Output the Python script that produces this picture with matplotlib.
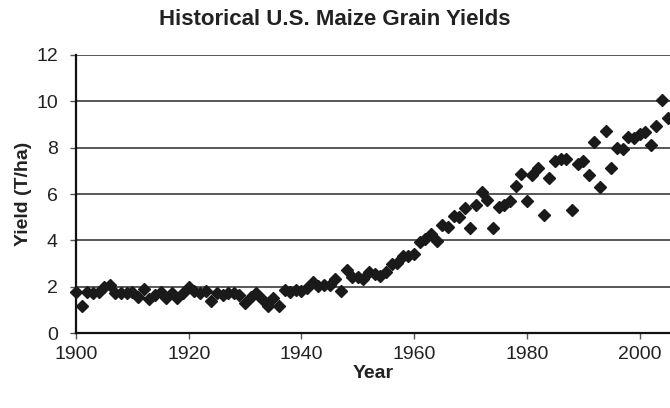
import numpy as np
import matplotlib
matplotlib.use('Agg')
from matplotlib import pyplot as plt

plt.rcParams['font.family'] = ['Liberation Sans', 'DejaVu Sans']

# Annual U.S. maize grain yield, tonnes per hectare
years = list(range(1900, 2006))
yields = [
    1.78, 1.17, 1.78, 1.71, 1.78, 1.97, 2.07, 1.74, 1.71, 1.71,   # 1900s
    1.78, 1.57, 1.89, 1.45, 1.64, 1.78, 1.50, 1.71, 1.50, 1.71,   # 1910s
    1.97, 1.83, 1.71, 1.83, 1.39, 1.74, 1.64, 1.71, 1.71, 1.62,   # 1920s
    1.30, 1.57, 1.74, 1.45, 1.17, 1.52, 1.17, 1.86, 1.78, 1.86,   # 1930s
    1.81, 1.95, 2.22, 2.05, 2.07, 2.08, 2.34, 1.80, 2.70, 2.40,   # 1940s
    2.40, 2.32, 2.62, 2.56, 2.47, 2.64, 2.98, 3.03, 3.32, 3.33,   # 1950s
    3.43, 3.92, 4.06, 4.26, 3.95, 4.65, 4.59, 5.03, 4.99, 5.39,   # 1960s
    4.55, 5.53, 6.09, 5.73, 4.52, 5.43, 5.53, 5.70, 6.34, 6.88,   # 1970s
    5.71, 6.84, 7.11, 5.09, 6.70, 7.41, 7.50, 7.52, 5.31, 7.30,   # 1980s
    7.44, 6.82, 8.26, 6.32, 8.70, 7.13, 7.98, 7.96, 8.44, 8.40,   # 1990s
    8.60, 8.68, 8.12, 8.93, 10.07, 9.29,                          # 2000s
]

x_ticks = [1900, 1920, 1940, 1960, 1980, 2000]
y_ticks = [0, 2, 4, 6, 8, 10, 12]

fig = plt.figure(figsize=(6.7, 4.08), dpi=100)
ax = fig.add_axes([0.1134, 0.1838, 0.8866, 0.6814])

# horizontal gridlines
for v in y_ticks[1:]:
    ax.axhline(v, color='#2a2a2a', lw=1.1, zorder=1)

ax.plot(years, yields, linestyle='none', marker='D', markersize=6.0,
        color='#1a1a1a', clip_on=False, zorder=3)

ax.set_xlim(1900, 2005.4)
ax.set_ylim(0, 12)
ax.set_xticks(x_ticks)
ax.set_yticks(y_ticks)

ax.spines['top'].set_visible(False)
ax.spines['right'].set_visible(False)
ax.spines['left'].set_linewidth(1.6)
ax.spines['bottom'].set_linewidth(1.6)
ax.spines['left'].set_color('#111111')
ax.spines['bottom'].set_color('#111111')

ax.tick_params(axis='both', direction='out', length=4, width=1,
               color='#555555', labelsize=14, labelcolor='#222222')
ax.tick_params(axis='y', pad=9)
ax.tick_params(axis='x', pad=5)

ax.set_xlabel('Year', fontsize=14, fontweight='bold', color='#222222', labelpad=2)
ax.set_ylabel('Yield (T/ha)', fontsize=14, fontweight='bold', color='#222222', labelpad=3)
fig.text(0.5, 0.953, 'Historical U.S. Maize Grain Yields', ha='center', va='center',
         fontsize=16, fontweight='bold', color='#222222')

fig.savefig('out.png', dpi=100, facecolor='white')
